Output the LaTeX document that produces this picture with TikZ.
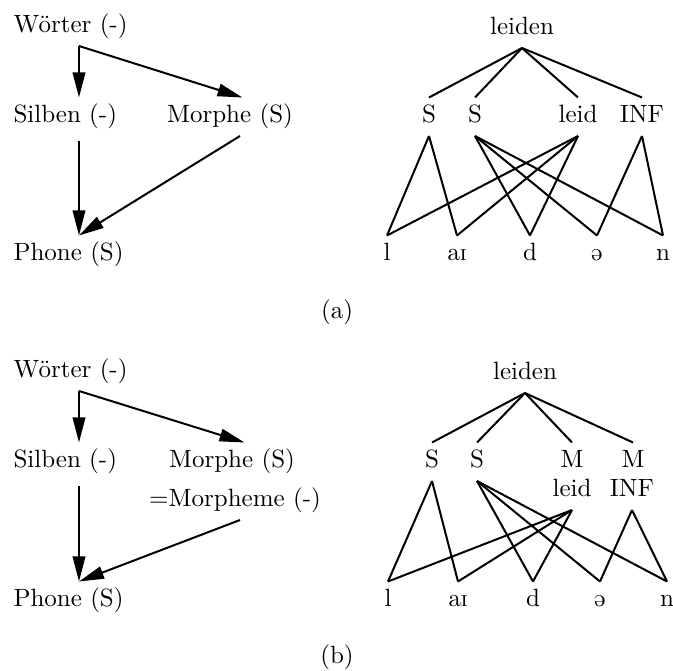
\documentclass[tikz,border=0pt]{standalone}
\usepackage{xcolor}
\usepackage{tipa}
\usepackage{tikz}
\usetikzlibrary{positioning, arrows.meta}
\tikzset{
    lbl/.style={inner sep=3pt, text height=7pt, text depth=2pt},
    arr/.style={line width=0.8pt, -{Triangle[length=10pt, width=5pt]}},
    twig/.style={line width=0.8pt}
}

\begin{document}
\begin{tikzpicture}[x=0.4pt, y=-0.4pt]
    \useasboundingbox (0,0) rectangle (673,671);

    \node[lbl, anchor=base west] (woerterA) at (5.5,33) {W\"orter (-)};
    \node[lbl, anchor=base west] (silbenA) at (5.5,123) {Silben (-)};
    \node[lbl, anchor=base] (morpheA) at (230,123) {Morphe (S)};
    \node[lbl, anchor=base west] (phoneA) at (5.5,261) {Phone (S)};
    \coordinate (colA) at (79,0);
    \draw[arr] (woerterA.south -| colA) -- (silbenA.north -| colA);
    \draw[arr] (woerterA.south -| colA) -- ([xshift=5pt]morpheA.north);
    \draw[arr] ([yshift=-2pt]silbenA.south -| colA) -- (phoneA.north -| colA);
    \draw[arr] ([xshift=4pt]morpheA.south) -- (phoneA.north -| colA);

    \node[lbl, anchor=base] (leidenA) at (522,35) {leiden};
    \node[lbl, anchor=base] (s1A) at (429,123) {S};
    \node[lbl, anchor=base] (s2A) at (475,123) {S};
    \node[lbl, anchor=base] (leidA) at (578,123) {leid};
    \node[lbl, anchor=base] (infA) at (642,123) {INF};
    \node[lbl, anchor=base] (lA) at (387,261) {l};
    \node[lbl, anchor=base] (aiA) at (457,261) {\textipa{aI}};
    \node[lbl, anchor=base] (dA) at (530,261) {d};
    \node[lbl, anchor=base] (schwaA) at (597,261) {\textipa{@}};
    \node[lbl, anchor=base] (nA) at (663,261) {n};
    \foreach \t in {s1A,s2A,leidA,infA}
        \draw[twig] (leidenA.south) -- (\t.north);
    \foreach \a/\b in {s1A/lA, s1A/aiA, s2A/dA, s2A/schwaA, s2A/nA,
                       leidA/lA, leidA/aiA, leidA/dA, infA/schwaA, infA/nA}
        \draw[twig] (\a.south) -- (\b.north);

    \node[lbl, anchor=base] (capA) at (337,319) {(a)};

    \node[lbl, anchor=base west] (woerterB) at (5.5,378) {W\"orter (-)};
    \node[lbl, anchor=base west] (silbenB) at (5.5,468) {Silben (-)};
    \node[lbl, anchor=base] (morpheB) at (232,468) {Morphe (S)};
    \node[lbl, anchor=base] (morphemB) at (235,507) {=Morpheme (-)};
    \node[lbl, anchor=base west] (phoneB) at (5.5,607) {Phone (S)};
    \coordinate (colB) at (79,0);
    \draw[arr] (woerterB.south -| colB) -- (silbenB.north -| colB);
    \draw[arr] (woerterB.south -| colB) -- ([xshift=5pt]morpheB.north);
    \draw[arr] ([yshift=-2pt]silbenB.south -| colB) -- (phoneB.north -| colB);
    \draw[arr] ([xshift=2pt]morphemB.south) -- (phoneB.north -| colB);

    \node[lbl, anchor=base] (leidenB) at (525,380) {leiden};
    \node[lbl, anchor=base] (s1B) at (432,468) {S};
    \node[lbl, anchor=base] (s2B) at (477,468) {S};
    \node[lbl, anchor=base] (m1B) at (572,468) {M};
    \node[lbl, anchor=base] (m2B) at (633,468) {M};
    \node[lbl, anchor=base] (leidB) at (572,497) {leid};
    \node[lbl, anchor=base] (infB) at (632,497) {INF};
    \node[lbl, anchor=base] (lB) at (388,607) {l};
    \node[lbl, anchor=base] (aiB) at (458,607) {\textipa{aI}};
    \node[lbl, anchor=base] (dB) at (533,607) {d};
    \node[lbl, anchor=base] (schwaB) at (600,607) {\textipa{@}};
    \node[lbl, anchor=base] (nB) at (667,607) {n};
    \foreach \t in {s1B,s2B,m1B,m2B}
        \draw[twig] (leidenB.south) -- (\t.north);
    \foreach \a/\b in {s1B/lB, s1B/aiB, s2B/dB, s2B/schwaB, s2B/nB,
                       leidB/lB, leidB/aiB, leidB/dB, infB/schwaB, infB/nB}
        \draw[twig] (\a.south) -- (\b.north);

    \node[lbl, anchor=base] (capB) at (337,663) {(b)};
\end{tikzpicture}
\end{document}
